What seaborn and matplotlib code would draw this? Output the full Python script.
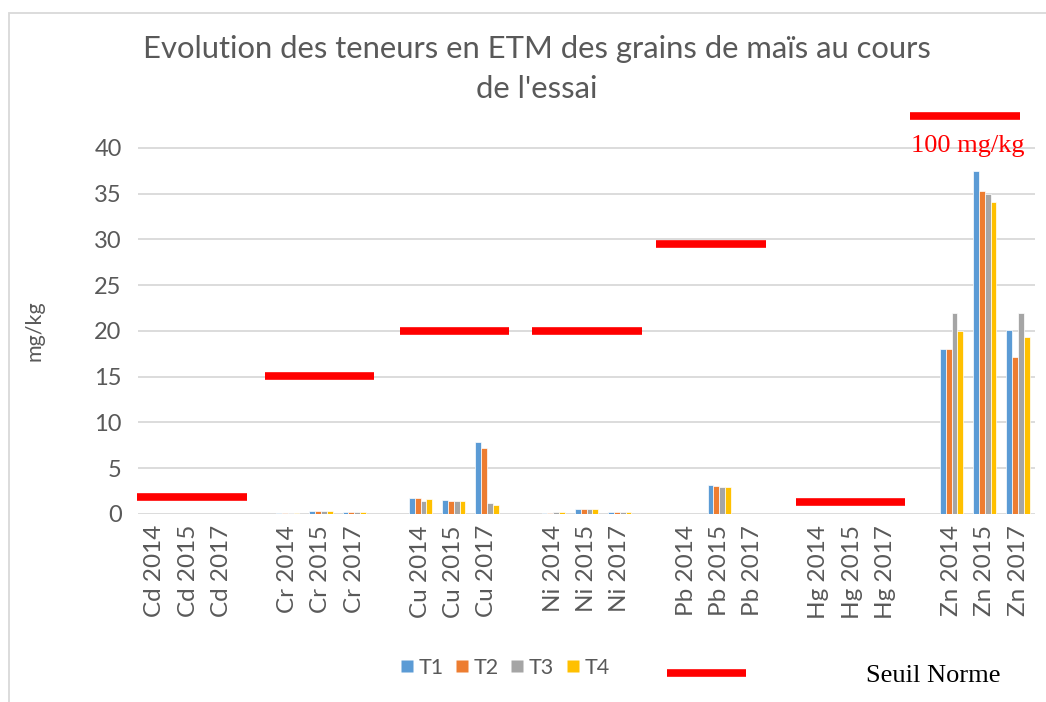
import matplotlib
matplotlib.use("Agg")
import matplotlib.pyplot as plt
import seaborn as sns
import pandas as pd
from matplotlib.lines import Line2D
from matplotlib.patches import Rectangle

# ---- data ----
elements = ["Cd", "Cr", "Cu", "Ni", "Pb", "Hg", "Zn"]
years = ["2014", "2015", "2017"]
treatments = ["T1", "T2", "T3", "T4"]

T1 = [0.04, 0.05, 0.04,  0.06, 0.38, 0.25,  1.75, 1.5, 7.9,  0.1, 0.55, 0.25,  0.03, 3.15, 0.05,  0.02, 0.05, 0.02,  18.0, 37.5, 20.1]
T2 = [0.04, 0.05, 0.04,  0.10, 0.35, 0.25,  1.75, 1.4, 7.2,  0.15, 0.55, 0.25, 0.03, 3.05, 0.05,  0.02, 0.05, 0.02,  18.0, 35.3, 17.2]
T3 = [0.04, 0.05, 0.04,  0.06, 0.35, 0.25,  1.4, 1.4, 1.25,  0.2, 0.5, 0.25,   0.03, 3.0, 0.05,   0.02, 0.05, 0.02,  22.0, 34.9, 22.0]
T4 = [0.04, 0.05, 0.04,  0.06, 0.33, 0.25,  1.65, 1.4, 1.0,  0.2, 0.5, 0.25,   0.03, 2.9, 0.05,   0.02, 0.05, 0.02,  20.0, 34.1, 19.3]

# threshold ("Seuil Norme") levels as drawn, per element
seuil = [1.9, 15.1, 20.0, 20.0, 29.5, 1.3, 43.5]
seuil_zn_label = "100 mg/kg"

# ---- layout (not data) ----
line_shift = [-0.04, -0.19, -0.12, -0.14, -0.4, -0.2, -0.75]   # horizontal nudge of red lines
line_len = 3.3

series = {"T1": T1, "T2": T2, "T3": T3, "T4": T4}
cats = [f"{e} {y}" for e in elements for y in years]
rows = []
for t in treatments:
    for c, v in zip(cats, series[t]):
        rows.append({"cat": c, "Traitement": t, "val": v})
df = pd.DataFrame(rows)

order = []
for i, e in enumerate(elements):
    order += [f"{e} {y}" for y in years]
    if i < len(elements) - 1:
        order.append(" " * (i + 1))

palette = {"T1": "#5B9BD5", "T2": "#ED7D31", "T3": "#A5A5A5", "T4": "#FFC000"}
gray = "#595959"

sns.set_theme(style="white")
plt.rcParams["font.family"] = ["Lato", "DejaVu Sans"]

fig = plt.figure(figsize=(10.46, 7.02), dpi=100)
ax = fig.add_axes([138.4 / 1046, 1 - 514 / 702, (1034.6 - 138.4) / 1046, (514 - 102) / 702])

sns.barplot(data=df, x="cat", y="val", hue="Traitement", order=order,
            hue_order=treatments, palette=palette, width=0.7,
            edgecolor="white", linewidth=0.5, saturation=1, ax=ax, legend=False)

ax.set_ylim(0, 45)
ax.set_xlim(-0.5, len(order) - 0.5)
ax.set_yticks(range(0, 41, 5))
ax.yaxis.grid(True, color="#D9D9D9", linewidth=1.3)
ax.set_axisbelow(True)
for s in ax.spines.values():
    s.set_visible(False)
ax.tick_params(axis="y", labelsize=17, labelcolor=gray, length=0, pad=12)
ax.tick_params(axis="x", labelsize=17.5, labelcolor=gray, length=0, pad=8)
ax.set_xticks(range(len(order)))
ax.set_xticklabels([o if o.strip() else "" for o in order], rotation=90)
ax.set_xlabel("")
ax.set_ylabel("mg/kg", fontsize=15.5, color=gray)
ax.yaxis.set_label_coords((44 - 138.4) / 896.2, (514 - 331) / 412)

# threshold lines
for i, (lvl, sh) in enumerate(zip(seuil, line_shift)):
    start = order.index(f"{elements[i]} {years[0]}") - 0.5 + sh
    ax.plot([start, start + line_len], [lvl, lvl], color="red", lw=5.5,
            solid_capstyle="butt", clip_on=False, zorder=5)
zn_start = order.index(f"Zn {years[0]}") - 0.5 + line_shift[-1]
ax.text(zn_start + line_len / 2 + 0.1, seuil[-1] - 3.3, seuil_zn_label, color="red",
        fontsize=19, family=["Liberation Serif"], ha="center", va="center")

# title
fig.text(537 / 1046, 1 - 69 / 702,
         "Evolution des teneurs en ETM des grains de maïs au cours\nde l'essai",
         ha="center", va="center", fontsize=22.3, color=gray, linespacing=1.5)

# legend
handles = [Line2D([], [], marker="s", linestyle="none", markersize=8.3,
                  markerfacecolor=palette[t], markeredgecolor="none") for t in treatments]
fig.legend(handles, treatments, loc="center", bbox_to_anchor=(505 / 1046, 1 - 668 / 702), ncol=4,
           frameon=False, fontsize=15.5, handlelength=0.6,
           handletextpad=0.25, columnspacing=0.55, labelcolor=gray)
fig.add_artist(Line2D([667 / 1046, 746 / 1046], [1 - 673 / 702] * 2, color="red", lw=5.5,
                      solid_capstyle="butt", transform=fig.transFigure))
fig.text(866 / 1046, 1 - 676 / 702, "Seuil Norme", family=["Liberation Serif"],
         fontsize=19, color="black", ha="left", va="center")

# outer frame
fig.add_artist(Rectangle((8.5 / 1046, -0.1), 1.2, 1 - 12.5 / 702 + 0.1, fill=False,
                         edgecolor="#D9D9D9", lw=1.3, transform=fig.transFigure))

fig.savefig("out.png", dpi=100)
